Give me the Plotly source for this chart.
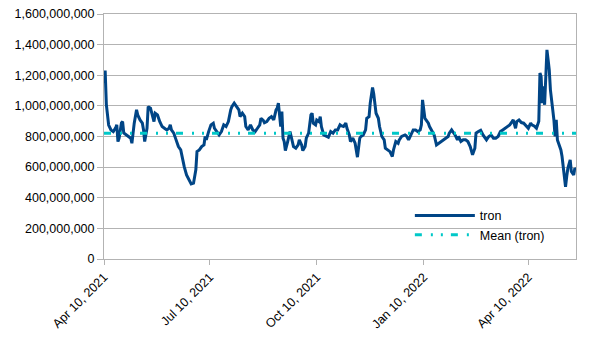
import plotly.graph_objects as go

# ---- data ----
dates = [
    "2021-04-10", "2021-04-11", "2021-04-12", "2021-04-13", "2021-04-14", "2021-04-16", "2021-04-18",
    "2021-04-20", "2021-04-21", "2021-04-22", "2021-04-23", "2021-04-25", "2021-04-26", "2021-04-27",
    "2021-04-29", "2021-05-01", "2021-05-03", "2021-05-04", "2021-05-06", "2021-05-08", "2021-05-09",
    "2021-05-11", "2021-05-13", "2021-05-14", "2021-05-15", "2021-05-17", "2021-05-18", "2021-05-20",
    "2021-05-21", "2021-05-23", "2021-05-24", "2021-05-26", "2021-05-28", "2021-05-30", "2021-06-01",
    "2021-06-03", "2021-06-05", "2021-06-06", "2021-06-07", "2021-06-09", "2021-06-11", "2021-06-12",
    "2021-06-13", "2021-06-15", "2021-06-16", "2021-06-17", "2021-06-18", "2021-06-20", "2021-06-22",
    "2021-06-24", "2021-06-26", "2021-06-28", "2021-06-29", "2021-07-01", "2021-07-03", "2021-07-05",
    "2021-07-06", "2021-07-07", "2021-07-09", "2021-07-11", "2021-07-13", "2021-07-14", "2021-07-16",
    "2021-07-18", "2021-07-20", "2021-07-22", "2021-07-24", "2021-07-26", "2021-07-28", "2021-07-29",
    "2021-07-31", "2021-08-02", "2021-08-04", "2021-08-05", "2021-08-07", "2021-08-09", "2021-08-10",
    "2021-08-12", "2021-08-14", "2021-08-16", "2021-08-18", "2021-08-20", "2021-08-22", "2021-08-23",
    "2021-08-25", "2021-08-26", "2021-08-28", "2021-08-30", "2021-09-01", "2021-09-03", "2021-09-05",
    "2021-09-06", "2021-09-07", "2021-09-08", "2021-09-09", "2021-09-10", "2021-09-11", "2021-09-12",
    "2021-09-13", "2021-09-15", "2021-09-17", "2021-09-18", "2021-09-20", "2021-09-22", "2021-09-24",
    "2021-09-25", "2021-09-27", "2021-09-28", "2021-09-30", "2021-10-01", "2021-10-03", "2021-10-05",
    "2021-10-06", "2021-10-07", "2021-10-09", "2021-10-10", "2021-10-12", "2021-10-13", "2021-10-14",
    "2021-10-16", "2021-10-18", "2021-10-20", "2021-10-22", "2021-10-24", "2021-10-26", "2021-10-28",
    "2021-10-30", "2021-10-31", "2021-11-02", "2021-11-04", "2021-11-05", "2021-11-07", "2021-11-08",
    "2021-11-10", "2021-11-12", "2021-11-13", "2021-11-14", "2021-11-16", "2021-11-17", "2021-11-19",
    "2021-11-21", "2021-11-22", "2021-11-24", "2021-11-25", "2021-11-26", "2021-11-27", "2021-11-28",
    "2021-11-29", "2021-11-30", "2021-12-02", "2021-12-03", "2021-12-05", "2021-12-07", "2021-12-08",
    "2021-12-10", "2021-12-12", "2021-12-14", "2021-12-15", "2021-12-17", "2021-12-19", "2021-12-20",
    "2021-12-22", "2021-12-25", "2021-12-26", "2021-12-28", "2021-12-30", "2022-01-01", "2022-01-03",
    "2022-01-05", "2022-01-07", "2022-01-08", "2022-01-09", "2022-01-10", "2022-01-11", "2022-01-12",
    "2022-01-14", "2022-01-15", "2022-01-17", "2022-01-19", "2022-01-21", "2022-01-23", "2022-01-25",
    "2022-01-27", "2022-01-29", "2022-01-31", "2022-02-01", "2022-02-03", "2022-02-04", "2022-02-06",
    "2022-02-08", "2022-02-09", "2022-02-11", "2022-02-13", "2022-02-15", "2022-02-17", "2022-02-19",
    "2022-02-20", "2022-02-21", "2022-02-23", "2022-02-24", "2022-02-26", "2022-02-28", "2022-03-02",
    "2022-03-03", "2022-03-05", "2022-03-07", "2022-03-09", "2022-03-11", "2022-03-13", "2022-03-15",
    "2022-03-17", "2022-03-19", "2022-03-21", "2022-03-23", "2022-03-25", "2022-03-27", "2022-03-28",
    "2022-03-30", "2022-03-31", "2022-04-02", "2022-04-04", "2022-04-06", "2022-04-08", "2022-04-10",
    "2022-04-12", "2022-04-13", "2022-04-15", "2022-04-17", "2022-04-18", "2022-04-19", "2022-04-20",
    "2022-04-21", "2022-04-22", "2022-04-23", "2022-04-24", "2022-04-25", "2022-04-26", "2022-04-27",
    "2022-04-28", "2022-04-29", "2022-04-30", "2022-05-01", "2022-05-02", "2022-05-03", "2022-05-04",
    "2022-05-05", "2022-05-06", "2022-05-08", "2022-05-09", "2022-05-10", "2022-05-11", "2022-05-12",
    "2022-05-13", "2022-05-14", "2022-05-16", "2022-05-17", "2022-05-19", "2022-05-20", "2022-05-21",
]

tron_millions = [
    1150, 1230, 1010, 930, 875, 843, 832,
    856, 876, 767, 790, 889, 897, 823,
    810, 800, 789, 756, 887, 974, 941,
    908, 887, 843, 767, 854, 995, 985,
    952, 897, 952, 941, 897, 865, 854,
    843, 854, 876, 843, 822, 778, 758,
    734, 712, 669, 636, 603, 549, 516,
    490, 495, 582, 701, 712, 734, 745,
    800, 778, 832, 876, 887, 854, 832,
    810, 832, 876, 865, 897, 974, 995,
    1018, 995, 974, 930, 952, 930, 865,
    843, 876, 843, 832, 854, 876, 919,
    905, 890, 897, 919, 930, 908, 974,
    985, 1018, 941, 865, 963, 789, 767,
    708, 767, 832, 800, 734, 724, 745,
    778, 745, 708, 734, 789, 822, 941,
    952, 887, 876, 908, 897, 930, 865,
    810, 800, 795, 832, 822, 843, 843,
    876, 870, 865, 887, 854, 810, 767,
    789, 756, 712, 665, 789, 800, 810,
    843, 919, 930, 1018, 1061, 1120, 1080,
    1028, 952, 919, 865, 800, 778, 724,
    712, 701, 669, 712, 767, 756, 778,
    800, 810, 805, 778, 810, 843, 843,
    832, 843, 876, 1039, 985, 919, 908,
    887, 865, 832, 810, 745, 756, 767,
    778, 789, 800, 822, 843, 832, 810,
    778, 800, 767, 778, 778, 767, 734,
    712, 680, 724, 822, 832, 840, 810,
    800, 778, 800, 810, 789, 789, 800,
    832, 843, 854, 861, 876, 897, 908,
    854, 897, 908, 891, 887, 869, 854,
    887, 876, 869, 854, 876, 900, 1214,
    1192, 1018, 1127, 1007, 1214, 1366, 1301,
    1235, 1105, 1018, 974, 908, 800, 908,
    778, 756, 712, 669, 603, 516, 472,
    538, 593, 647, 571, 549, 593, 582,
]

mean_tron = 822_000_000  # level of the mean line

x_tick_dates = ["2021-04-10", "2021-07-10", "2021-10-10", "2022-01-10", "2022-04-10"]
x_tick_labels = ["Apr 10, 2021", "Jul 10, 2021", "Oct 10, 2021", "Jan 10, 2022", "Apr 10, 2022"]
y_tick_values = [0, 200_000_000, 400_000_000, 600_000_000, 800_000_000,
                 1_000_000_000, 1_200_000_000, 1_400_000_000, 1_600_000_000]

tron = [v * 1_000_000 for v in tron_millions]

FONT = "Liberation Sans, Arial, sans-serif"
GRID = "#b3b3b3"

fig = go.Figure()
fig.add_trace(go.Scatter(
    x=dates, y=tron, mode="lines", name="tron",
    line=dict(color="#004586", width=3),
))
fig.add_trace(go.Scatter(
    x=[dates[0], dates[-1]], y=[mean_tron, mean_tron], mode="lines", name="Mean (tron)",
    line=dict(color="#00c8c8", width=3, dash="7px,9px,2px,8px,2px,8px"),
))

fig.update_layout(
    width=605, height=340,
    margin=dict(l=104, r=29, t=14, b=81, pad=0, autoexpand=False),
    paper_bgcolor="white", plot_bgcolor="white",
    font=dict(family=FONT, size=12.5, color="#000000"),
    showlegend=True,
    legend=dict(
        x=0.648, y=0.237, xanchor="left", yanchor="top",
        bgcolor="rgba(0,0,0,0)", borderwidth=0,
        font=dict(family=FONT, size=12.5, color="#000000"),
        itemwidth=60, tracegroupgap=0,
    ),
    xaxis=dict(
        type="date", automargin=False,
        range=["2021-04-10", "2022-05-21"],
        tickmode="array", tickvals=x_tick_dates, ticktext=x_tick_labels,
        tickangle=-45,
        tickfont=dict(family=FONT, size=12.5, color="#000000"),
        showgrid=False, zeroline=False,
        showline=True, linecolor=GRID, linewidth=1, mirror=True,
        ticks="outside", ticklen=5, tickcolor=GRID, tickwidth=1,
    ),
    yaxis=dict(
        automargin=False,
        range=[0, 1_600_000_000],
        tickmode="array", tickvals=y_tick_values,
        tickformat=",d",
        tickfont=dict(family=FONT, size=12.5, color="#000000"),
        showgrid=True, gridcolor=GRID, gridwidth=1,
        zeroline=False,
        showline=True, linecolor=GRID, linewidth=1, mirror=True,
        ticks="outside", ticklen=6, tickcolor=GRID, tickwidth=1,
    ),
)

fig.write_html("out.html")
